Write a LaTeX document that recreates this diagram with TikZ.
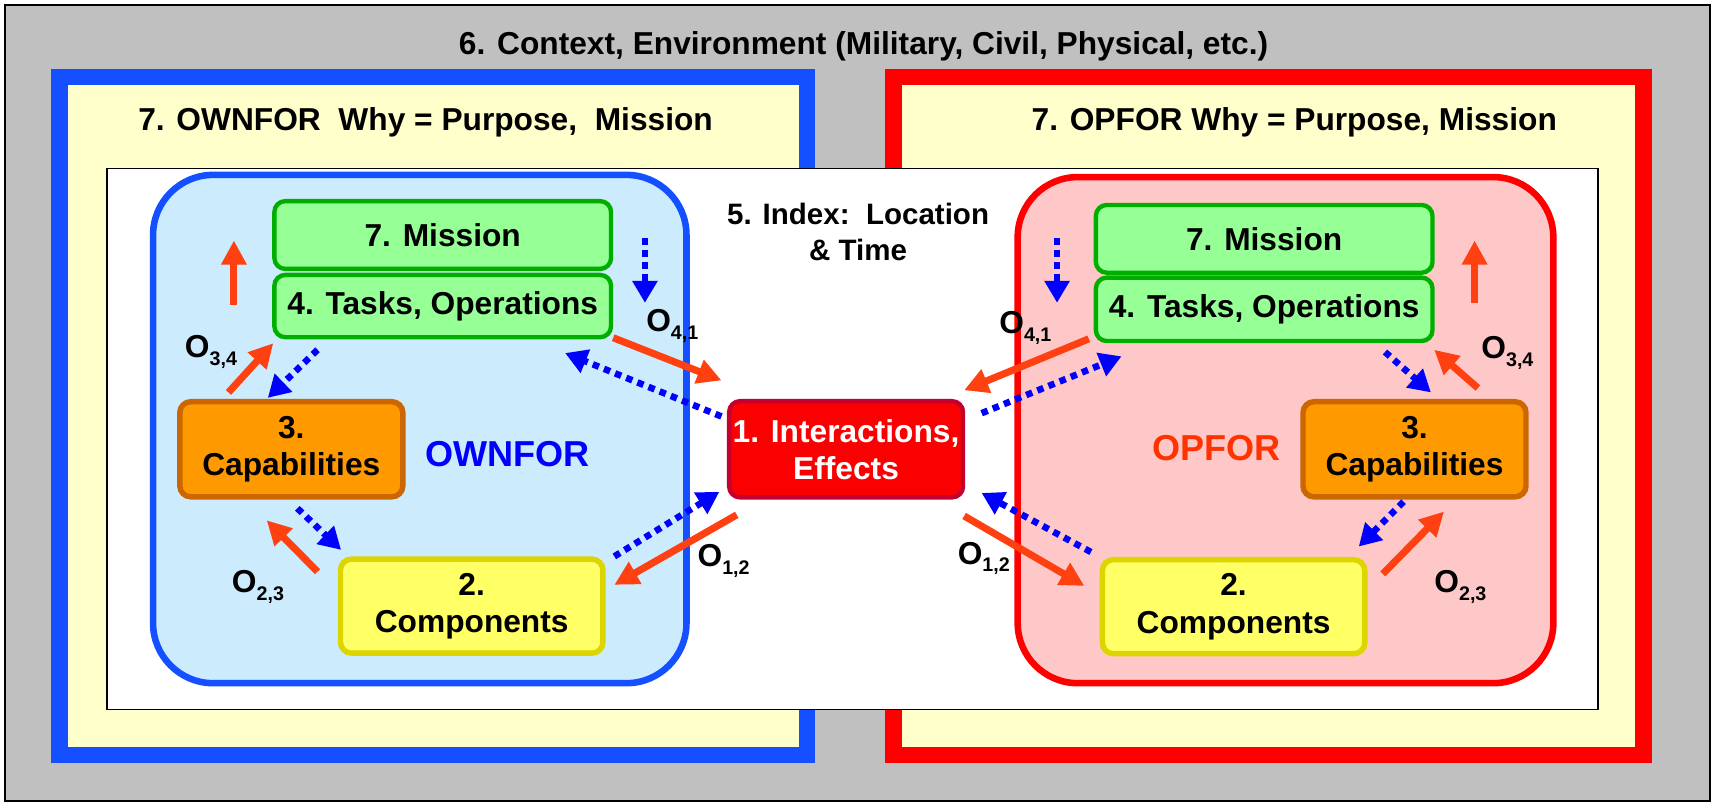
\documentclass[tikz,border=0pt]{standalone}
\usepackage{fontspec}
\setmainfont{Liberation Sans}
\usepackage{tikz}
\usetikzlibrary{arrows.meta}

\definecolor{bggray}{HTML}{C0C0C0}
\definecolor{ownblue}{HTML}{1450FF}
\definecolor{paleyellow}{HTML}{FFFFCC}
\definecolor{opred}{HTML}{FF0000}
\definecolor{paleblue}{HTML}{CCEBFC}
\definecolor{palered}{HTML}{FFC8C8}
\definecolor{taskgreen}{HTML}{96FF96}
\definecolor{taskedge}{HTML}{00AE00}
\definecolor{capfill}{HTML}{FF9900}
\definecolor{capedge}{HTML}{CC6600}
\definecolor{compfill}{HTML}{FFFF66}
\definecolor{compedge}{HTML}{DDD500}
\definecolor{interfill}{HTML}{FA0000}
\definecolor{interedge}{HTML}{C4002F}
\definecolor{flowred}{HTML}{FF4010}
\definecolor{flowblue}{HTML}{0000FF}
\definecolor{opforlab}{HTML}{FF3300}

\newcommand{\bigfont}{\fontsize{29bp}{34bp}\selectfont\bfseries}
\newcommand{\olab}[1]{O\raisebox{-7bp}{\fontsize{18bp}{18bp}\selectfont #1}}

\begin{document}
\begin{tikzpicture}[x=1bp,y=1bp,line join=miter,
  box/.style={rounded corners=10bp,inner sep=0pt,align=center,font=\bigfont},
  taskbox/.style={box,fill=taskgreen,draw=taskedge,line width=4bp,minimum width=308bp},
  capbox/.style={box,fill=capfill,draw=capedge,line width=5bp,minimum width=204bp,minimum height=87bp},
  compbox/.style={box,fill=compfill,draw=compedge,line width=5bp,minimum width=240bp,minimum height=86bp},
  interbox/.style={box,fill=interfill,draw=interedge,line width=4bp,minimum width=214bp,minimum height=88bp,text=white},
  olabel/.style={font=\bigfont,inner sep=0pt},
  push/.style={flowred,line width=6.5bp,-{Triangle[width=22bp,length=22bp]}},
  pull/.style={flowblue,line width=6bp,dash pattern=on 6bp off 5bp,-{Triangle[width=22bp,length=20bp]}}]
  \useasboundingbox (0,0) rectangle (1568,737);
%%
% Context
  \filldraw[fill=bggray,draw=black,line width=2bp] (4.5,4) rectangle (1564,732.5);
  \node[font=\bigfont] (context) at (790,695) {6. Context, Environment (Military, Civil, Physical, etc.)};
% Purpose frames
  \filldraw[fill=paleyellow,draw=ownblue,line width=15bp] (54.5,46.5) rectangle (738.5,666.5);
  \filldraw[fill=paleyellow,draw=opred,line width=15bp] (817.5,46.5) rectangle (1503.5,666.5);
  \node[font=\bigfont,anchor=west] (whyL) at (123,625) {7. OWNFOR\ \ Why = Purpose,\ \ Mission};
  \node[font=\bigfont] (whyR) at (1184,625) {7. OPFOR Why = Purpose, Mission};
% Index
  \filldraw[fill=white,draw=black,line width=1.5bp] (98,88) rectangle (1462,583);
  \node[font=\fontsize{27bp}{33bp}\selectfont\bfseries,align=center] (index) at (785,525) {5. Index:\ \ Location\\\& Time};
% Sides
  \filldraw[fill=paleblue,draw=ownblue,line width=6bp,rounded corners=55bp] (140,112) rectangle (628,577);
  \filldraw[fill=palered,draw=opred,line width=6bp,rounded corners=55bp] (931,112) rectangle (1421,575);
  \node[font=\fontsize{33bp}{36bp}\selectfont\bfseries,text=flowblue] (ownfor) at (464,322) {OWNFOR};
  \node[font=\fontsize{33bp}{36bp}\selectfont\bfseries,text=opforlab] (opfor) at (1113,327) {OPFOR};
%%
% Node: missionL
  \node[taskbox,minimum height=62bp] (missionL) at (405,522) {7. Mission};
% Node: tasksL
  \node[taskbox,minimum height=57bp] (tasksL) at (405,457) {4. Tasks, Operations};
% Node: capL
  \node[capbox] (capL) at (266.5,326) {3.\\Capabilities};
% Node: compL
  \node[compbox] (compL) at (431.5,182.5) {2.\\Components};
% Node: inter
  \node[interbox] (inter) at (774,326) {1. Interactions,\\Effects};
% Node: missionR
  \node[taskbox,minimum height=62bp] (missionR) at (1156.5,518.5) {7. Mission};
% Node: tasksR
  \node[taskbox,minimum height=58bp] (tasksR) at (1156.5,454) {4. Tasks, Operations};
% Node: capR
  \node[capbox] (capR) at (1294,326) {3.\\Capabilities};
% Node: compR
  \node[compbox] (compR) at (1128.5,182) {2.\\Components};
%%
% Labels
  \node[olabel] (o34L) at (193,415) {\olab{3,4}};
  \node[olabel] (o41L) at (615,439) {\olab{4,1}};
  \node[olabel] (o12L) at (662,224) {\olab{1,2}};
  \node[olabel] (o23L) at (236,200) {\olab{2,3}};
  \node[olabel] (o41R) at (938,437) {\olab{4,1}};
  \node[olabel] (o12R) at (900,226) {\olab{1,2}};
  \node[olabel] (o34R) at (1379,414) {\olab{3,4}};
  \node[olabel] (o23R) at (1336,200) {\olab{2,3}};
%%
% Edge ends, OWNFOR
  \coordinate (upL0) at (214,458);   \coordinate (upL1) at (214,517);
  \coordinate (dnL0) at (590,519);   \coordinate (dnL1) at (590,460);
  \coordinate (ctL0) at (209,378);   \coordinate (ctL1) at (250,423);
  \coordinate (tcL0) at (290.5,417); \coordinate (tcL1) at (245,373);
  \coordinate (tiL0) at (561,428);   \coordinate (tiL1) at (660,389);
  \coordinate (itL0) at (660,356);   \coordinate (itL1) at (517,414);
  \coordinate (piL0) at (562,228);   \coordinate (piL1) at (658,287);
  \coordinate (ipL0) at (674,266);   \coordinate (ipL1) at (562,202);
  \coordinate (cpL0) at (272,272);   \coordinate (cpL1) at (312,234);
  \coordinate (pcL0) at (290.5,214); \coordinate (pcL1) at (244,261);
% Edge ends, OPFOR
  \coordinate (dnR0) at (967,519);   \coordinate (dnR1) at (967,460);
  \coordinate (upR0) at (1349,460);  \coordinate (upR1) at (1349,517);
  \coordinate (tiR0) at (996,427);   \coordinate (tiR1) at (882,380);
  \coordinate (itR0) at (898,359);   \coordinate (itR1) at (1026,411);
  \coordinate (piR0) at (998,232);   \coordinate (piR1) at (898,286);
  \coordinate (ipR0) at (882,265);   \coordinate (ipR1) at (992,201);
  \coordinate (tcR0) at (1267,415);  \coordinate (tcR1) at (1309,378);
  \coordinate (ctR0) at (1352,382);  \coordinate (ctR1) at (1312,417);
  \coordinate (cpR0) at (1284,278);  \coordinate (cpR1) at (1243,237);
  \coordinate (pcR0) at (1265,212);  \coordinate (pcR1) at (1321,269);
%%
% Edge: tasksL -> missionL
  \draw[push] (upL0) -- (upL1);
  \draw[pull] (dnL0) -- (dnL1);
% Edge: capL -> tasksL
  \draw[push] (ctL0) -- (ctL1);
  \draw[pull] (tcL0) -- (tcL1);
% Edge: tasksL -> inter
  \draw[push] (tiL0) -- (tiL1);
  \draw[pull] (itL0) -- (itL1);
% Edge: inter -> compL
  \draw[push] (ipL0) -- (ipL1);
  \draw[pull] (piL0) -- (piL1);
% Edge: compL -> capL
  \draw[push] (pcL0) -- (pcL1);
  \draw[pull] (cpL0) -- (cpL1);
% Edge: tasksR -> missionR
  \draw[push] (upR0) -- (upR1);
  \draw[pull] (dnR0) -- (dnR1);
% Edge: capR -> tasksR
  \draw[push] (ctR0) -- (ctR1);
  \draw[pull] (tcR0) -- (tcR1);
% Edge: tasksR -> inter
  \draw[push] (tiR0) -- (tiR1);
  \draw[pull] (itR0) -- (itR1);
% Edge: inter -> compR
  \draw[push] (ipR0) -- (ipR1);
  \draw[pull] (piR0) -- (piR1);
% Edge: compR -> capR
  \draw[push] (pcR0) -- (pcR1);
  \draw[pull] (cpR0) -- (cpR1);
%
\end{tikzpicture}
\end{document}
